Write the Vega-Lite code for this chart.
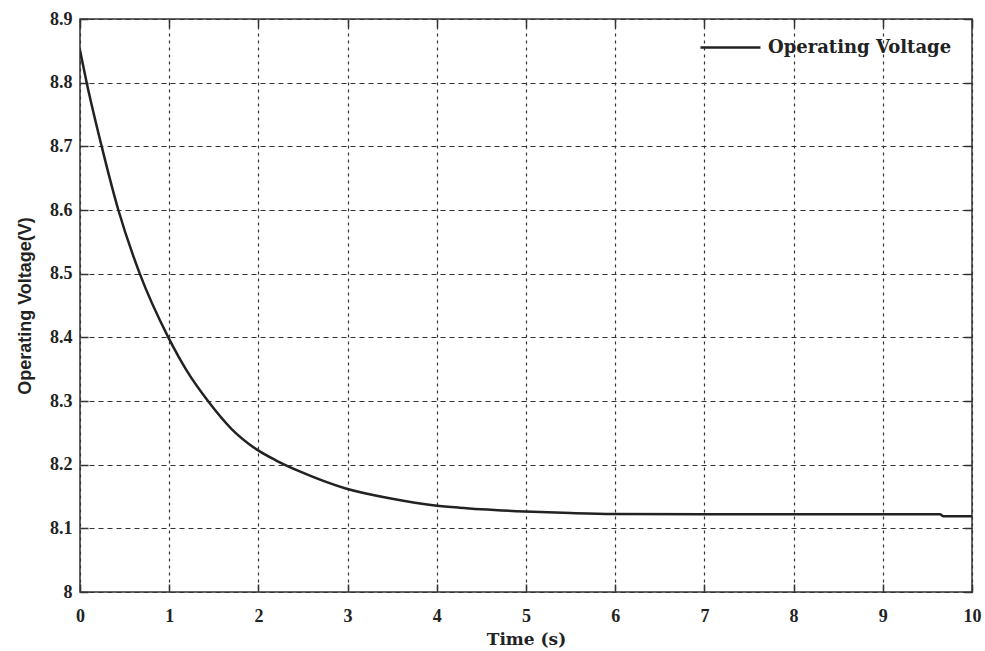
{
  "$schema": "https://vega.github.io/schema/vega-lite/v6.json",
  "width": 892,
  "height": 573,
  "autosize": {"type": "none"},
  "padding": {"left": 80, "top": 19, "right": 13, "bottom": 59},
  "background": "white",
  "config": {
    "view": {"stroke": "#333", "strokeWidth": 1.5},
    "font": "Liberation Serif",
    "axis": {
      "labelFont": "Liberation Serif",
      "labelFontWeight": "bold",
      "labelFontSize": 18,
      "labelColor": "#222",
      "labelFlush": false,
      "titleFont": "DejaVu Serif",
      "titleFontWeight": "bold",
      "titleFontSize": 17,
      "titleColor": "#222",
      "domain": false,
      "tickColor": "#333",
      "tickWidth": 1.5,
      "tickSize": -8,
      "gridColor": "#333",
      "gridWidth": 1.2
    }
  },
  "data": {
    "values": [
      {"t": 0, "v": 8.851, "s": "Operating Voltage"},
      {"t": 0.075, "v": 8.8, "s": "Operating Voltage"},
      {"t": 0.243, "v": 8.7, "s": "Operating Voltage"},
      {"t": 0.43, "v": 8.6, "s": "Operating Voltage"},
      {"t": 0.67, "v": 8.5, "s": "Operating Voltage"},
      {"t": 0.99, "v": 8.4, "s": "Operating Voltage"},
      {"t": 1.2, "v": 8.347, "s": "Operating Voltage"},
      {"t": 1.435, "v": 8.3, "s": "Operating Voltage"},
      {"t": 1.7, "v": 8.256, "s": "Operating Voltage"},
      {"t": 1.98, "v": 8.224, "s": "Operating Voltage"},
      {"t": 2.2, "v": 8.2065, "s": "Operating Voltage"},
      {"t": 2.47, "v": 8.189, "s": "Operating Voltage"},
      {"t": 2.97, "v": 8.163, "s": "Operating Voltage"},
      {"t": 3.5, "v": 8.1465, "s": "Operating Voltage"},
      {"t": 3.98, "v": 8.136, "s": "Operating Voltage"},
      {"t": 4.25, "v": 8.1325, "s": "Operating Voltage"},
      {"t": 4.5, "v": 8.13, "s": "Operating Voltage"},
      {"t": 4.99, "v": 8.1265, "s": "Operating Voltage"},
      {"t": 5.5, "v": 8.124, "s": "Operating Voltage"},
      {"t": 5.98, "v": 8.1225, "s": "Operating Voltage"},
      {"t": 7.0, "v": 8.122, "s": "Operating Voltage"},
      {"t": 8.0, "v": 8.122, "s": "Operating Voltage"},
      {"t": 9.0, "v": 8.122, "s": "Operating Voltage"},
      {"t": 9.64, "v": 8.122, "s": "Operating Voltage"},
      {"t": 9.68, "v": 8.119, "s": "Operating Voltage"},
      {"t": 10, "v": 8.119, "s": "Operating Voltage"}
    ]
  },
  "layer": [
    {
      "mark": {"type": "line", "strokeWidth": 2.5, "color": "#222", "clip": true, "interpolate": "monotone"},
      "encoding": {
        "x": {
          "field": "t", "type": "quantitative",
          "scale": {"domain": [0, 10], "nice": false, "zero": false},
          "axis": {
            "orient": "bottom", "values": [0,1,2,3,4,5,6,7,8,9,10], "format": "d",
            "title": "Time (s)", "titlePadding": 6, "labelPadding": 23,
            "grid": true, "gridDash": [3, 4]
          }
        },
        "y": {
          "field": "v", "type": "quantitative",
          "scale": {"domain": [8, 8.9], "nice": false, "zero": false},
          "axis": {
            "orient": "left", "values": [8, 8.1, 8.2, 8.3, 8.4, 8.5, 8.6, 8.7, 8.8, 8.9], "format": "~g",
            "title": "Operating Voltage(V)", "titleFont": "Liberation Sans", "titleFontSize": 18,
            "titlePadding": 15, "labelPadding": 16,
            "grid": true, "gridDash": [5, 4]
          }
        },
        "color": {
          "field": "s", "type": "nominal",
          "scale": {"range": ["#222"]},
          "legend": {
            "title": null, "orient": "none", "legendX": 619, "legendY": -3,
            "symbolType": "stroke", "symbolSize": 3600, "symbolStrokeWidth": 2.5,
            "labelFont": "DejaVu Serif", "labelFontWeight": "bold", "labelLimit": 400,
            "labelFontSize": 18, "labelColor": "#222", "labelOffset": 6
          }
        }
      }
    },
    {
      "mark": {"type": "line", "opacity": 0},
      "encoding": {
        "x": {
          "field": "t", "type": "quantitative",
          "axis": {"orient": "top", "values": [0,1,2,3,4,5,6,7,8,9,10], "labels": false, "title": null, "grid": false}
        },
        "y": {
          "field": "v", "type": "quantitative",
          "axis": {"orient": "right", "values": [8, 8.1, 8.2, 8.3, 8.4, 8.5, 8.6, 8.7, 8.8, 8.9], "labels": false, "title": null, "grid": false}
        }
      }
    }
  ]
}
